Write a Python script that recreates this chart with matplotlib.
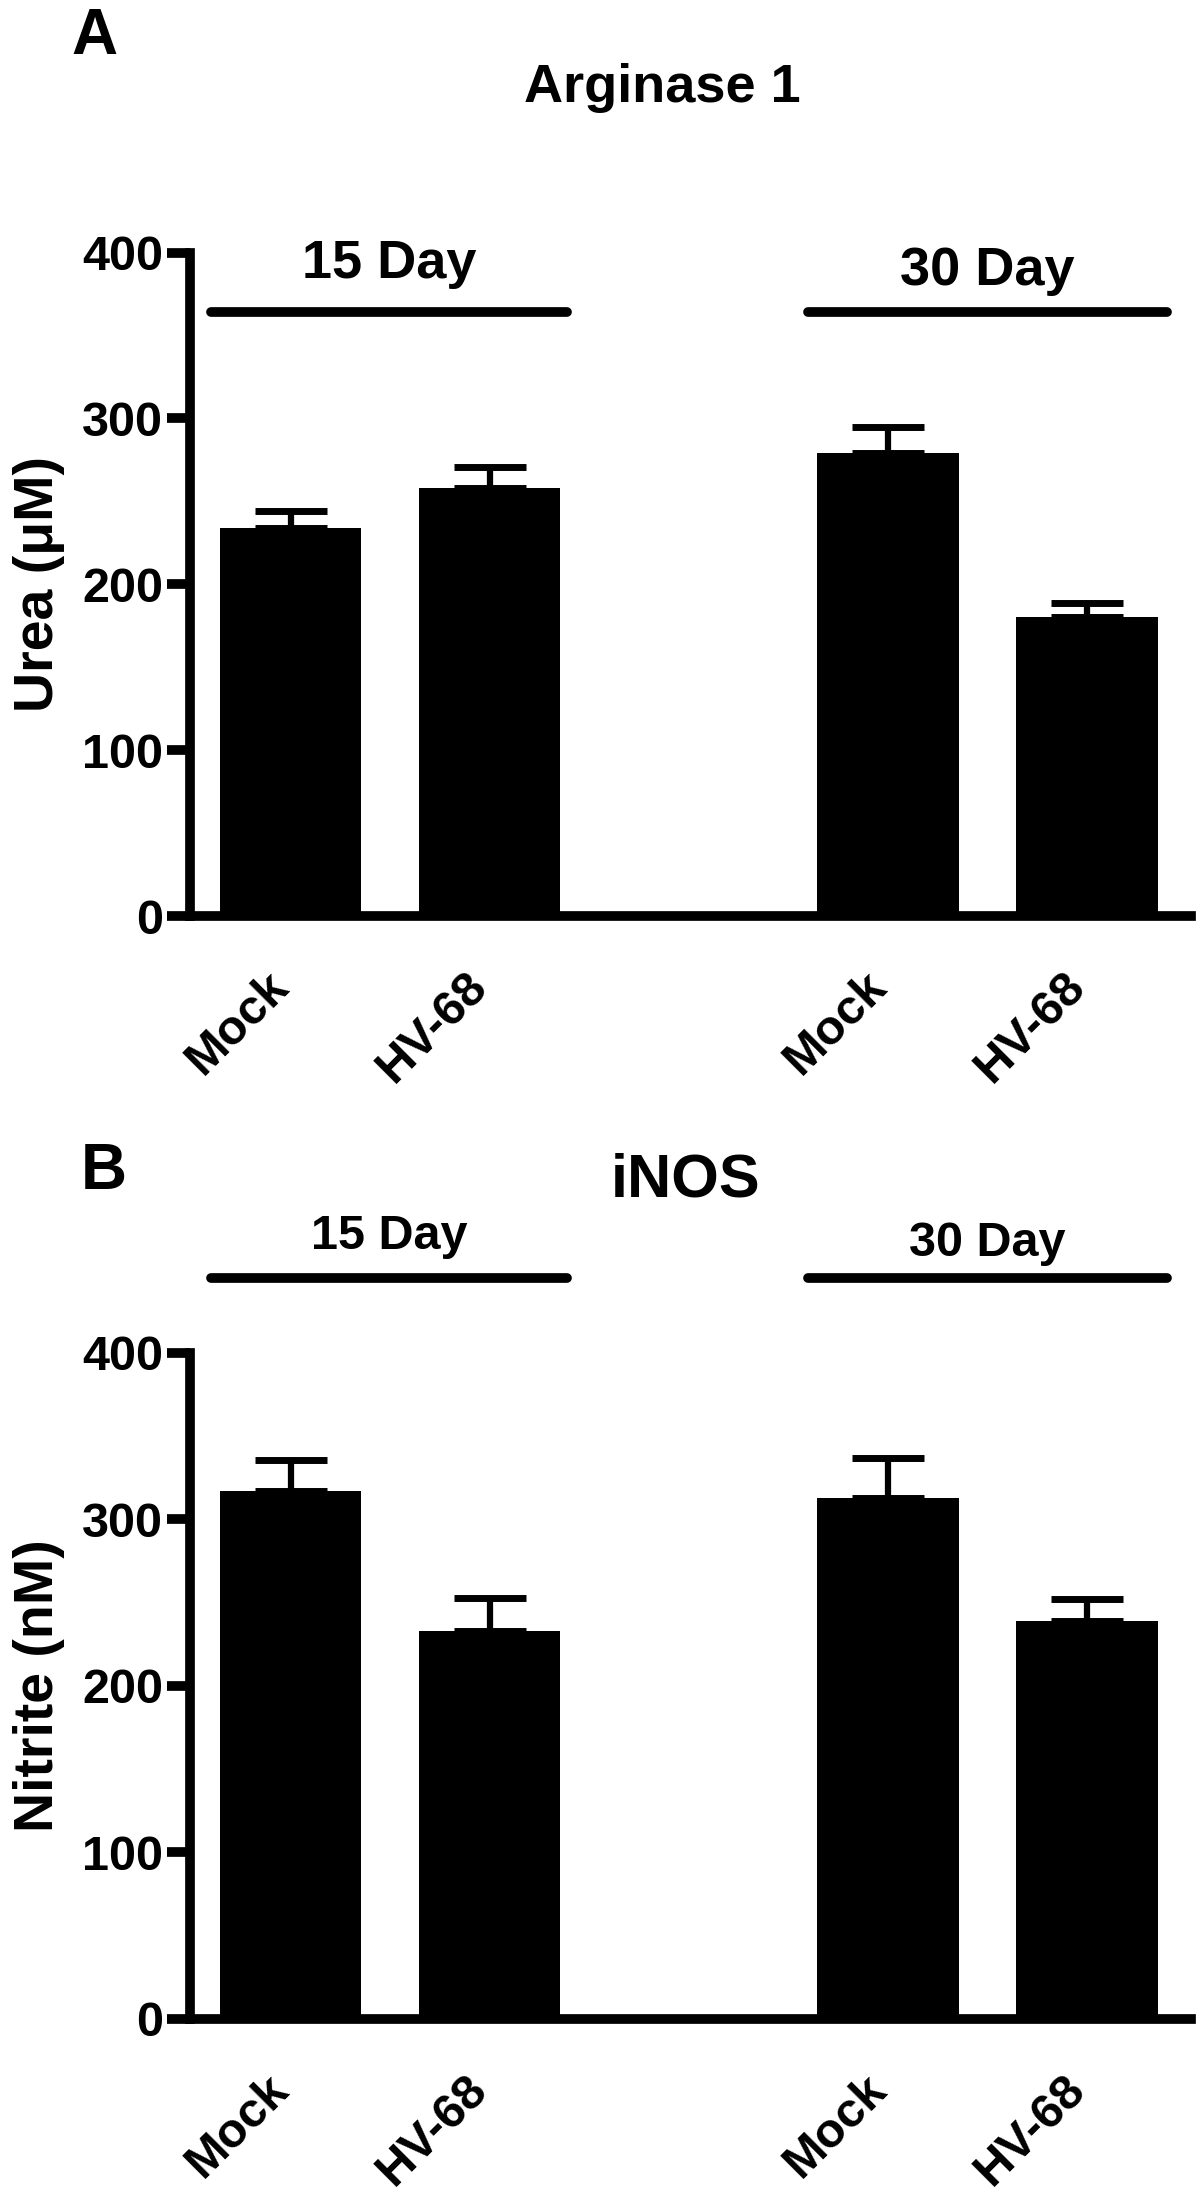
import matplotlib.pyplot as plt
import numpy as np

plt.rcParams['font.family'] = ['Liberation Sans', 'DejaVu Sans']
plt.rcParams['font.weight'] = 'bold'

groups = ['Mock', 'HV-68', 'Mock', 'HV-68']
positions = [0, 1, 3, 4]
day_labels = ['15 Day', '30 Day']

# Arginase 1 (urea)
urea_mean = [234, 258, 279, 180]
urea_err = [10, 13, 16, 9]

# iNOS (nitrite)
nitrite_mean = [317, 233, 313, 239]
nitrite_err = [19, 20, 24, 13]


def draw_panel(ax, means, errs, ylabel, line_y, text_y, text_size):
    ax.bar(positions, means, width=0.71, color='black', zorder=2)
    ax.errorbar(positions, means, yerr=[np.zeros(len(errs)), errs], fmt='none',
                ecolor='black', elinewidth=4.5, capsize=26, capthick=5, zorder=1)
    ax.set_xlim(-0.505, 4.52)
    ax.set_ylim(0, 400)
    ax.set_yticks([0, 100, 200, 300, 400])
    ax.set_xticks(positions)
    ax.set_xticklabels(groups, rotation=45, ha='right', va='baseline',
                       rotation_mode='anchor', fontsize=35, fontweight='bold')
    ax.tick_params(axis='x', length=0, pad=52)
    ax.tick_params(axis='y', length=16.5, width=7, labelsize=35, pad=3)
    for t in ax.get_yticklabels():
        t.set_fontweight('bold')
    for s in ['top', 'right']:
        ax.spines[s].set_visible(False)
    for s in ['left', 'bottom']:
        ax.spines[s].set_linewidth(7)
    ax.set_ylabel(ylabel, fontsize=40, fontweight='bold', labelpad=12)

    # group bars over the days
    for (x0, x1), lab, ty in zip([(-0.40, 1.39), (2.60, 4.40)], day_labels, text_y):
        ax.plot([x0, x1], [line_y, line_y], color='black', lw=7,
                solid_capstyle='round', clip_on=False)
        ax.text((x0 + x1) / 2, ty, lab, ha='center', va='center',
                fontsize=text_size, fontweight='bold', clip_on=False)


fig = plt.figure(figsize=(12, 22), dpi=100)

ax1 = fig.add_axes([0.1583, 0.5836, 0.834, 0.3016])
draw_panel(ax1, urea_mean, urea_err, 'Urea (\u03bcM)', 364, [393, 389], 39)

ax2 = fig.add_axes([0.1583, 0.0823, 0.834, 0.3027])
draw_panel(ax2, nitrite_mean, nitrite_err, 'Nitrite (nM)', 445, [470, 466], 35)

fig.text(0.552, 0.960, 'Arginase 1', ha='center', va='center', fontsize=39, fontweight='bold')
fig.text(0.571, 0.463, 'iNOS', ha='center', va='center', fontsize=44, fontweight='bold')
fig.text(0.079, 0.983, 'A', ha='center', va='center', fontsize=46, fontweight='bold')
fig.text(0.0867, 0.4673, 'B', ha='center', va='center', fontsize=46, fontweight='bold')

fig.savefig('out.png', dpi=100)
plt.close()
